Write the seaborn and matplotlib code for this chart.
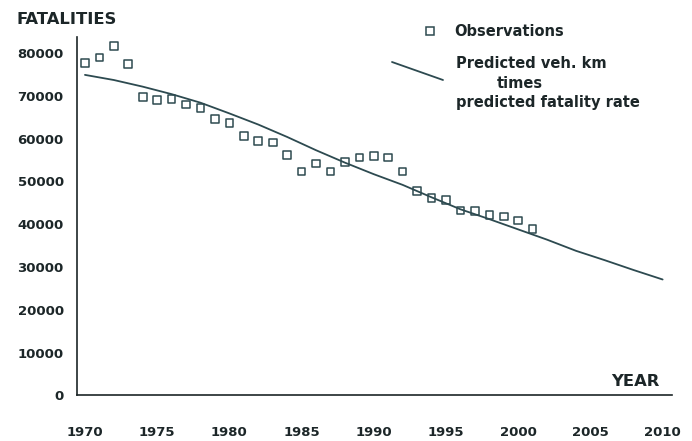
import matplotlib
matplotlib.use("Agg")
import matplotlib.pyplot as plt
import matplotlib.lines as mlines
import numpy as np
import pandas as pd
import seaborn as sns

# observed fatalities
obs_years = list(range(1970, 2002))
obs_values = [77700, 79000, 81600, 77400, 69800, 69000, 69300, 68000,
              67200, 64600, 63700, 60600, 59400, 59100, 56200, 52300,
              54200, 52300, 54600, 55600, 56000, 55600, 52300, 47800,
              46100, 45700, 43200, 43100, 42200, 41800, 40900, 38900]

# predicted veh. km times predicted fatality rate
pred_years = list(range(1970, 2011, 2))
pred_values = [74900, 73700, 72150, 70400, 68400, 65900, 63300, 60400,
               57300, 54400, 51700, 49200, 46300, 43500, 41200, 38800,
               36400, 33800, 31600, 29300, 27100]

x_ticks = list(range(1970, 2011, 5))
y_ticks = list(range(0, 80001, 10000))

ink = "#1c2628"
line_col = "#2d4a50"

sns.set_style("white")
plt.rcParams["font.family"] = ["DejaVu Sans"]
plt.rcParams["font.weight"] = "bold"

fig = plt.figure(figsize=(6.92, 4.41), dpi=100)
ax = fig.add_axes([0.1113, 0.1032, 0.8598, 0.8129])

obs = pd.DataFrame({"year": obs_years, "fatalities": obs_values})
pred = pd.DataFrame({"year": pred_years, "fatalities": pred_values})

sns.lineplot(data=pred, x="year", y="fatalities", color=line_col,
             linewidth=1.3, ax=ax)
sns.scatterplot(data=obs, x="year", y="fatalities", marker="s", s=30,
                facecolor="none", edgecolor=line_col, linewidth=1.1, ax=ax)

ax.set_xlim(1969.45, 2010.65)
ax.set_ylim(0, 83750)
ax.set_xticks(x_ticks)
ax.set_xticks(range(1970, 2011), minor=True)
ax.set_yticks(y_ticks)
ax.set_xticklabels([str(t) for t in x_ticks])
ax.set_yticklabels([str(t) for t in y_ticks])
ax.set_xlabel("")
ax.set_ylabel("")

for s in ["top", "right"]:
    ax.spines[s].set_visible(False)
for s in ["left", "bottom"]:
    ax.spines[s].set_color(ink)
    ax.spines[s].set_linewidth(1.2)

ax.tick_params(axis="x", which="major", direction="out", length=10,
               width=1.0, color=ink, pad=12, labelsize=9.5, labelcolor=ink)
ax.tick_params(axis="x", which="minor", direction="out", length=4.3,
               width=1.0, color=ink)
ax.tick_params(axis="y", which="major", direction="out", length=3.6,
               width=1.0, color=ink, pad=6, labelsize=9.5, labelcolor=ink)
for lab in ax.get_xticklabels() + ax.get_yticklabels():
    lab.set_fontweight("bold")

# axis titles
fig.text(16 / 692, 1 - 19 / 441, "FATALITIES", fontsize=11.8,
         fontweight="bold", color=ink, ha="left", va="center")
fig.text(660 / 692, 1 - 382 / 441, "YEAR", fontsize=11.8, fontweight="bold",
         color=ink, ha="right", va="center")

# legend drawn by hand (sloped sample line as in the original)
fig.lines.append(mlines.Line2D([430 / 692], [1 - 31 / 441], marker="s",
                               markersize=5.5, markerfacecolor="none",
                               markeredgecolor=line_col, markeredgewidth=1.1,
                               linestyle="none", transform=fig.transFigure))
fig.text(454 / 692, 1 - 31 / 441, "Observations", fontsize=10.5,
         fontweight="bold", color=ink, ha="left", va="center")
fig.lines.append(mlines.Line2D([392 / 692, 443 / 692],
                               [1 - 62 / 441, 1 - 80 / 441],
                               color=line_col, linewidth=1.3,
                               transform=fig.transFigure))
fig.text(456 / 692, 1 - 63 / 441, "Predicted veh. km", fontsize=10.5,
         fontweight="bold", color=ink, ha="left", va="center")
fig.text(497 / 692, 1 - 83 / 441, "times", fontsize=10.5,
         fontweight="bold", color=ink, ha="left", va="center")
fig.text(456 / 692, 1 - 103 / 441, "predicted fatality rate", fontsize=10.5,
         fontweight="bold", color=ink, ha="left", va="center")

fig.savefig("out.png", dpi=100)
